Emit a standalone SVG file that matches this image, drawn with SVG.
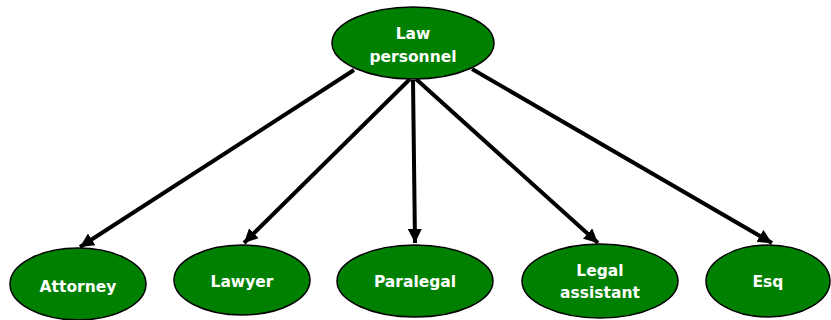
<svg xmlns="http://www.w3.org/2000/svg" width="831" height="320" viewBox="0 0 831 320">
<style>
.node ellipse{fill:#008000;stroke:#000;stroke-width:1.5}
.node text{fill:#fff;font-family:"DejaVu Sans","Liberation Sans",sans-serif;font-weight:bold;font-size:15.5px;text-anchor:middle}
.edge{stroke:#000;stroke-width:4;fill:none;marker-end:url(#ah)}
</style>
<defs>
<marker id="ah" markerUnits="userSpaceOnUse" markerWidth="16" markerHeight="14" refX="14" refY="7" orient="auto">
<path d="M0,0 L14,7 L0,14 Z" fill="#000"/>
</marker>
</defs>
<rect width="831" height="320" fill="#fff"/>
<g id="connectors">
<line class="edge" x1="354" y1="70" x2="80" y2="247"/>
<line class="edge" x1="410" y1="79" x2="244" y2="243"/>
<line class="edge" x1="413" y1="80" x2="415" y2="243"/>
<line class="edge" x1="416" y1="79" x2="598" y2="243"/>
<line class="edge" x1="472" y1="69" x2="772" y2="243"/>
</g>
<g id="law-personnel" class="node">
<ellipse cx="413" cy="43" rx="81" ry="36"/>
<text x="413" y="39">Law</text>
<text x="413" y="62">personnel</text>
</g>
<g id="attorney" class="node">
<ellipse cx="78" cy="284" rx="68" ry="36"/>
<text x="78" y="292">Attorney</text>
</g>
<g id="lawyer" class="node">
<ellipse cx="242" cy="280" rx="68" ry="35"/>
<text x="242" y="287">Lawyer</text>
</g>
<g id="paralegal" class="node">
<ellipse cx="415" cy="281" rx="78" ry="36"/>
<text x="415" y="287">Paralegal</text>
</g>
<g id="legal-assistant" class="node">
<ellipse cx="600" cy="281" rx="78" ry="37"/>
<text x="600" y="276">Legal</text>
<text x="600" y="298">assistant</text>
</g>
<g id="esq" class="node">
<ellipse cx="768" cy="281" rx="62" ry="36"/>
<text x="768" y="287">Esq</text>
</g>
</svg>
